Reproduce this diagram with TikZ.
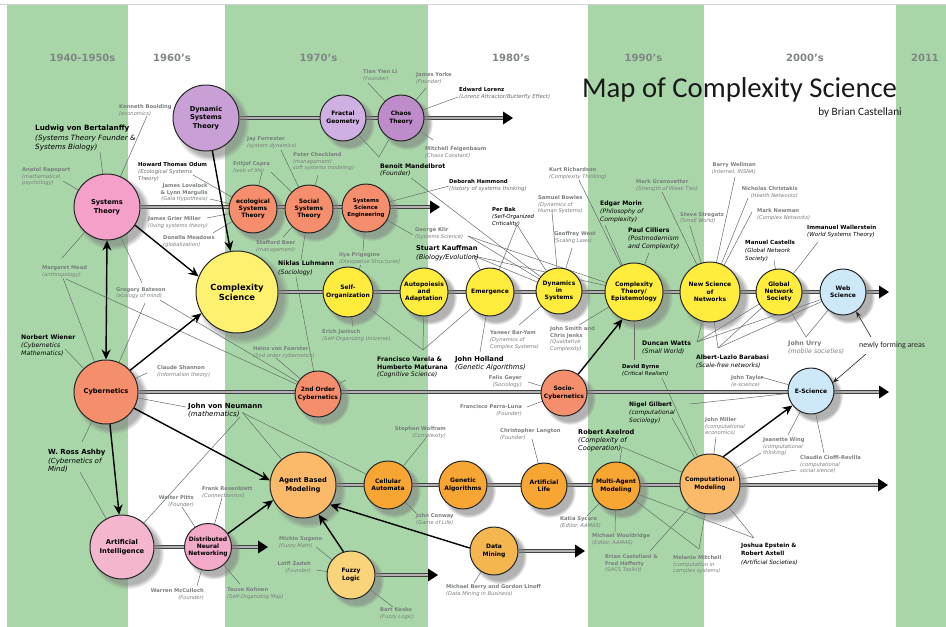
\documentclass[tikz,border=0pt]{standalone}
\usepackage{fontspec}
\setsansfont{DejaVu Sans}
\newfontfamily\titlefont{Carlito}
\usetikzlibrary{shadows,arrows.meta,fadings}
\pgfdeclarelayer{back}
\pgfdeclarelayer{lines}
\pgfsetlayers{back,lines,main}
\definecolor{bandC}{RGB}{168,214,168}
\definecolor{eraG}{RGB}{128,134,132}
\definecolor{minorG}{RGB}{122,126,126}
\definecolor{descG}{RGB}{105,108,108}
\definecolor{lineG}{RGB}{100,108,104}
\definecolor{dstC}{RGB}{200,160,214}
\definecolor{fgC}{RGB}{206,176,226}
\definecolor{chaosC}{RGB}{190,140,202}
\definecolor{stC}{RGB}{245,160,200}
\definecolor{aiC}{RGB}{243,182,206}
\definecolor{dnnC}{RGB}{243,170,200}
\definecolor{salC}{RGB}{245,142,108}
\definecolor{yelC}{RGB}{255,236,60}
\definecolor{csC}{RGB}{255,241,112}
\definecolor{bluC}{RGB}{205,232,248}
\definecolor{abmC}{RGB}{250,186,106}
\definecolor{orC}{RGB}{247,166,52}
\definecolor{dmC}{RGB}{244,182,78}
\definecolor{flC}{RGB}{250,212,122}
\newcommand{\nm}[1]{\textbf{#1}}
\newcommand{\dsc}[1]{\textit{#1}}
\newcommand{\gdsc}[1]{\textcolor{descG}{\textit{#1}}}
\newcommand{\tlhead}[1]{\fill[black] (#1) -- ([xshift=-10pt,yshift=6.5pt]#1) -- ([xshift=-10pt,yshift=-6.5pt]#1) -- cycle;}
\begin{document}
\begin{tikzpicture}[x=1pt,y=-1pt,
  circ/.style={circle, draw=black!85, line width=1pt, inner sep=0pt, align=center, text=black,
    font=\sffamily\bfseries\fontsize{6}{7.3}\selectfont,
    circular drop shadow={shadow xshift=5pt, shadow yshift=-5pt, shadow scale=1.14, opacity=0.6}},
  bigc/.style={font=\sffamily\bfseries\fontsize{6.7}{8.5}\selectfont},
  tl/.style={draw=black!75, line width=0.75pt, double=black!30, double distance=1.9pt},
  arr/.style={draw=black, line width=1.4pt, -{Stealth[length=10pt,width=9pt]}},
  arrb/.style={draw=black, line width=1.4pt, {Stealth[length=10pt,width=9pt]}-{Stealth[length=10pt,width=9pt]}},
  thinarr/.style={draw=black!85, line width=0.6pt, -{Stealth[length=6pt,width=4.5pt]}},
  pl/.style={draw=lineG, line width=0.5pt},
  mn/.style={anchor=north west, inner sep=0pt, align=left, text=minorG, font=\sffamily\fontsize{5.2}{6.9}\selectfont},
  mnr/.style={mn, anchor=north east, align=right},
  md/.style={anchor=north west, inner sep=0pt, align=left, text=black, font=\sffamily\fontsize{5.4}{7}\selectfont},
  mj/.style={anchor=north west, inner sep=0pt, align=left, text=black, font=\sffamily\fontsize{6.3}{8.2}\selectfont},
  era/.style={anchor=base, inner sep=0pt, text=eraG, font=\sffamily\bfseries\fontsize{10}{12}\selectfont}
]
\useasboundingbox (0,0) rectangle (946,627);
\begin{pgfonlayer}{back}
\fill[white] (0,0) rectangle (946,627);
\fill[bandC] (7,5) rectangle (128,627);
\fill[bandC] (225,5) rectangle (428,627);
\fill[bandC] (588,5) rectangle (704,627);
\fill[bandC] (896,5) rectangle (946,627);
\draw[black!18, line width=0.6pt] (0,4.5) -- (946,4.5);
\end{pgfonlayer}

% era labels and title
\node[era] (e40) at (82.5,61) {1940-1950s};
\node[era] (e60) at (172,61) {1960's};
\node[era] (e70) at (318.5,61) {1970's};
\node[era] (e80) at (511,61) {1980's};
\node[era] (e90) at (643.5,61) {1990's};
\node[era] (e00) at (805,61) {2000's};
\node[era] (e11) at (925,61) {2011};
\node[anchor=base west, inner sep=0pt, text=black!90, font=\titlefont\fontsize{28.7}{30}\selectfont] (title) at (582,97) {Map of Complexity Science};
\node[anchor=base east, inner sep=0pt, text=black!90, font=\titlefont\fontsize{11.2}{13}\selectfont] (author) at (902,115) {by Brian Castellani};

% circles
\node[circ, bigc, fill=dstC, minimum size=66pt] (dst) at (206,118) {Dynamic\\Systems\\Theory};
\node[circ, fill=fgC, minimum size=46pt] (fg) at (343,118) {Fractal\\Geometry};
\node[circ, fill=chaosC, minimum size=46pt] (chaos) at (401,118) {Chaos\\Theory};
\node[circ, bigc, fill=stC, minimum size=66pt] (st) at (107,207) {Systems\\Theory};
\node[circ, fill=salC, minimum size=48pt] (eco) at (253,209) {ecological\\Systems\\Theory};
\node[circ, fill=salC, minimum size=48pt] (sst) at (309,209) {Social\\Systems\\Theory};
\node[circ, fill=salC, minimum size=48pt, font=\sffamily\bfseries\fontsize{5.5}{7}\selectfont] (sse) at (366,208) {Systems\\Science\\Engineering};
\node[circ, fill=csC, minimum size=82pt, font=\sffamily\bfseries\fontsize{8.4}{10}\selectfont] (cs) at (237,292) {Complexity\\Science};
\node[circ, fill=yelC, minimum size=50pt] (so) at (348,292) {Self-\\Organization};
\node[circ, fill=yelC, minimum size=48pt] (ap) at (424,292) {Autopoiesis\\and\\Adaptation};
\node[circ, fill=yelC, minimum size=48pt] (em) at (490,292) {Emergence};
\node[circ, fill=yelC, minimum size=46pt] (dis) at (559,291) {Dynamics\\in\\Systems};
\node[circ, fill=yelC, minimum size=58pt] (cte) at (634,292) {Complexity\\Theory/\\Epistemology};
\node[circ, fill=yelC, minimum size=60pt] (nsn) at (710,292) {New Science\\of\\Networks};
\node[circ, fill=yelC, minimum size=46pt] (gns) at (779,292) {Global\\Network\\Society};
\node[circ, fill=bluC, minimum size=46pt] (ws) at (843,292) {Web\\Science};
\node[circ, bigc, fill=salC, minimum size=64pt] (cyb) at (106,392) {Cybernetics};
\node[circ, fill=salC, minimum size=46pt] (soc2) at (318,394) {2nd Order\\Cybernetics};
\node[circ, fill=salC, minimum size=46pt] (socyb) at (564,393) {Socio-\\Cybernetics};
\node[circ, fill=bluC, minimum size=46pt] (es) at (811,391) {E-Science};
\node[circ, bigc, fill=aiC, minimum size=64pt] (ai) at (122,547) {Artificial\\Intelligence};
\node[circ, fill=dnnC, minimum size=47pt] (dnn) at (208,547) {Distributed\\Neural\\Networking};
\node[circ, bigc, fill=abmC, minimum size=66pt] (abm) at (303,485) {Agent Based\\Modeling};
\node[circ, fill=orC, minimum size=48pt] (ca) at (388,485) {Cellular\\Automata};
\node[circ, fill=orC, minimum size=48pt] (ga) at (463,485) {Genetic\\Algorithms};
\node[circ, fill=orC, minimum size=46pt] (al) at (544,486) {Artificial\\Life};
\node[circ, fill=orC, minimum size=48pt] (mam) at (616,486) {Multi-Agent\\Modeling};
\node[circ, fill=abmC, minimum size=60pt] (cm) at (710,484) {Computational\\Modeling};
\node[circ, fill=dmC, minimum size=48pt] (dm) at (494,551) {Data\\Mining};
\node[circ, fill=flC, minimum size=48pt] (fl) at (351,575) {Fuzzy\\Logic};

% timeline ends
\coordinate (e1) at (513,118);
\coordinate (e2) at (440,207);
\coordinate (e3) at (889,292);
\coordinate (e4) at (889,392);
\coordinate (e5) at (888,485);
\coordinate (e6) at (268,547);
\coordinate (e7) at (438,575);
\coordinate (e8) at (585,551);

% connector start points
\coordinate (kb1) at (147,116);
\coordinate (ar1) at (63,181);
\coordinate (lvb1) at (100,152);
\coordinate (od1) at (193,175);
\coordinate (lov1) at (210,199);
\coordinate (jgm1) at (207,218);
\coordinate (dmw1) at (213,233);
\coordinate (mm1) at (62,258);
\coordinate (mm2) at (63,278);
\coordinate (mm3) at (66,279);
\coordinate (gb1) at (142,283);
\coordinate (gb2) at (145,303);
\coordinate (gb3) at (160,300);
\coordinate (nw1) at (65,349);
\coordinate (cls1) at (147,373);
\coordinate (jvn1) at (186,407);
\coordinate (jvn2) at (240,417);
\coordinate (jvn3) at (242,412);
\coordinate (jvn4) at (243,413);
\coordinate (wra1) at (82,442);
\coordinate (wra2) at (80,472);
\coordinate (wp1) at (182,507);
\coordinate (fr1) at (222,498);
\coordinate (wmc1) at (197,586);
\coordinate (tk1) at (240,584);
\coordinate (ms1) at (316,547);
\coordinate (lz1) at (316,570);
\coordinate (bk1) at (393,607);
\coordinate (sw1) at (426,438);
\coordinate (jc1) at (416,513);
\coordinate (mb1) at (474,583);
\coordinate (cl1) at (532,439);
\coordinate (ra1) at (622,447);
\coordinate (ks1) at (587,516);
\coordinate (mw1) at (615,532);
\coordinate (bc1) at (650,551);
\coordinate (mmi1) at (699,549);
\coordinate (je1) at (754,538);
\coordinate (jm1) at (716,437);
\coordinate (jw1) at (761,453);
\coordinate (jw2) at (788,435);
\coordinate (ccr1) at (796,470);
\coordinate (ccr2) at (824,453);
\coordinate (ng1) at (672,418);
\coordinate (ng2) at (690,404);
\coordinate (db1) at (634,360);
\coordinate (db2) at (662,378);
\coordinate (dw1) at (697,342);
\coordinate (alb1) at (718,348);
\coordinate (ju1) at (806,337);
\coordinate (jt1) at (761,377);
\coordinate (mc1) at (774,260);
\coordinate (iw1) at (818,242);
\coordinate (mn1) at (752,212);
\coordinate (nc1) at (748,198);
\coordinate (bw1) at (735,177);
\coordinate (ss1) at (690,226);
\coordinate (mg1) at (662,192);
\coordinate (kr1) at (579,180);
\coordinate (emo1) at (605,225);
\coordinate (pc1) at (649,253);
\coordinate (sb1) at (552,212);
\coordinate (gw1) at (572,248);
\coordinate (pb1) at (517,225);
\coordinate (sk1) at (474,256);
\coordinate (gk1) at (468,236);
\coordinate (gk2) at (413,235);
\coordinate (dh1) at (449,186);
\coordinate (bm1) at (379,157);
\coordinate (bm2) at (411,178);
\coordinate (tyl1) at (368,83);
\coordinate (jy1) at (426,88);
\coordinate (el1) at (458,97);
\coordinate (mf1) at (433,140);
\coordinate (jf1) at (281,150);
\coordinate (pck1) at (318,175);
\coordinate (fc1) at (271,172);
\coordinate (fc2) at (262,172);
\coordinate (sbe1) at (283,237);
\coordinate (nl1) at (301,260);
\coordinate (nl2) at (296,277);
\coordinate (ip1) at (363,251);
\coordinate (ip2) at (361,265);
\coordinate (ej1) at (353,327);
\coordinate (hvf1) at (276,358);
\coordinate (fv1) at (423,350);
\coordinate (fv2) at (346,380);
\coordinate (jh1) at (480,352);
\coordinate (yby1) at (519,325);
\coordinate (jsc1) at (579,325);
\coordinate (fg1) at (528,382);
\coordinate (fpl1) at (527,407);
\coordinate (nfa1) at (871,337);
\coordinate (nfa2) at (866,354);

\begin{pgfonlayer}{lines}
\foreach \a/\b in {kb1/st, ar1/st, lvb1/st, od1/eco, lov1/eco, jgm1/eco, dmw1/eco,
  mm1/st, mm2/cyb, mm3/soc2, gb1/st, gb2/cyb, gb3/soc2, nw1/cyb, cls1/cyb,
  jvn1/cyb, jvn2/ai, jvn3/abm, jvn4/ca, wra1/cyb, wra2/ai, wp1/dnn, fr1/dnn, wmc1/dnn, tk1/dnn,
  ms1/fl, lz1/fl, bk1/fl, sw1/ca, jc1/ca, mb1/dm, cl1/al, ra1/mam, ra1/cm, ks1/mam, mw1/mam,
  bc1/cm, mmi1/mam, mmi1/cm, je1/cm, je1/mam, jm1/cm, jw1/cm, jw2/es, ccr1/cm, ccr2/es,
  ng1/cm, ng2/es, db1/cte, db2/cm, dw1/nsn, dw1/gns, dw1/ws, alb1/nsn, alb1/gns, alb1/ws,
  ju1/gns, ju1/ws, jt1/es, mc1/gns, iw1/gns, mn1/nsn, nc1/nsn, bw1/nsn, ss1/nsn, mg1/nsn,
  kr1/cte, emo1/cte, pc1/cte, sb1/dis, gw1/dis, pb1/em, pb1/dis, sk1/em, sk1/dis, sk1/cte,
  gk1/dis, gk1/cte, gk2/sse, dh1/sse, bm1/fg, bm1/chaos, bm2/dis, tyl1/chaos, jy1/chaos,
  el1/chaos, mf1/chaos, jf1/sst, pck1/sst, fc1/sst, fc2/eco, sbe1/sst, nl1/sst, nl2/soc2,
  ip1/sse, ip2/so, ej1/so, hvf1/soc2, fv1/so, fv1/ap, fv1/em, fv2/soc2, jh1/em, yby1/dis,
  jsc1/cte, fg1/socyb, fpl1/socyb}
  \draw[pl] (\a) -- (\b);
% timelines
\draw[tl] (dst) -- ([xshift=-8pt]e1); \tlhead{e1}
\draw[tl] (st) -- ([xshift=-8pt]e2); \tlhead{e2}
\draw[tl] (cs) -- ([xshift=-8pt]e3); \tlhead{e3}
\draw[tl] (cyb) -- ([xshift=-8pt]e4); \tlhead{e4}
\draw[tl] (abm) -- ([xshift=-8pt]e5); \tlhead{e5}
\draw[tl] (ai) -- ([xshift=-8pt]e6); \tlhead{e6}
\draw[tl] (fl) -- ([xshift=-8pt]e7); \tlhead{e7}
\draw[tl] (dm) -- ([xshift=-8pt]e8); \tlhead{e8}
\end{pgfonlayer}

% people: minor
\node[mn] (kb) at (119,104) {\nm{Kenneth Boulding}\\\dsc{(economics)}};
\node[mn] (ar) at (22,167) {\nm{Anatol Rapoport}\\\dsc{(mathematical}\\\dsc{psychology)}};
\node[mn] (jgm) at (148,216) {\nm{James Grier Miller}\\\dsc{(living systems theory)}};
\node[mn] (dmw) at (163,235) {\nm{Donella Meadows}\\\dsc{(globalization)}};
\node[mn] (mm) at (42,265) {\nm{Margaret Mead}\\\dsc{(anthropology)}};
\node[mn] (gb) at (116,287) {\nm{Gregory Bateson}\\\dsc{(ecology of mind)}};
\node[mn] (cls) at (157,365) {\nm{Claude Shannon}\\\dsc{(Information theory)}};
\node[mn] (fr) at (202,486) {\nm{Frank Rosenblatt}\\\dsc{(Connectionism)}};
\node[mn] (tk) at (227,587) {\nm{Teuvo Kohnen}\\\dsc{(Self-Organizing Map)}};
\node[mn] (ms) at (279,536) {\nm{Michio Sugeno}\\\dsc{(Fuzzy Math)}};
\node[mn] (bk) at (380,607) {\nm{Bart Kosko}\\\dsc{(Fuzzy Logic)}};
\node[mn] (jc) at (416,513) {\nm{John Conway}\\\dsc{(Game of Life)}};
\node[mn] (mb) at (446,584) {\nm{Michael Berry and Gordon Linoff}\\\dsc{(Data Mining in Business)}};
\node[mn] (cl) at (500,428) {\nm{Christopher Langton}\\\dsc{(Founder)}};
\node[mn] (ks) at (560,516) {\nm{Katia Sycara}\\\dsc{(Editor, AAMAS)}};
\node[mn] (mw) at (592,533) {\nm{Michael Wooldridge}\\\dsc{(Editor, AAMAS)}};
\node[mn] (bc) at (605,554) {\nm{Brian Castellani \&}\\\nm{Fred Hafferty}\\\dsc{(SACS Toolkit)}};
\node[mn] (mmi) at (673,555) {\nm{Melanie Mitchell}\\\dsc{(computation in}\\\dsc{complex systems)}};
\node[mn] (jm) at (705,417) {\nm{John Miller}\\\dsc{(computational}\\\dsc{economics)}};
\node[mn] (jw) at (763,437) {\nm{Jeanette Wing}\\\dsc{(computational}\\\dsc{thinking)}};
\node[mn] (ccr) at (800,455) {\nm{Claudio Cioffi-Revilla}\\\dsc{(computational}\\\dsc{social sience)}};
\node[mn] (jt) at (731,375) {\nm{John Taylor}\\\dsc{(e-science)}};
\node[mn] (mnw) at (757,208) {\nm{Mark Newman}\\\dsc{(Complex Networks)}};
\node[mn] (ss) at (680,212) {\nm{Steve Strogatz}\\\dsc{(Small World)}};
\node[mn] (mg) at (636,179) {\nm{Mark Granovetter}\\\dsc{(Strength of Weak Ties)}};
\node[mn] (kr) at (549,167) {\nm{Kurt Richardson}\\\dsc{(Complexity Thinking)}};
\node[mn] (sb) at (538,195) {\nm{Samuel Bowles}\\\dsc{(Dynamics of}\\\dsc{Human Systems)}};
\node[mn] (gw) at (554,231) {\nm{Geoffrey West}\\\dsc{(Scaling Laws)}};
\node[mn] (gk) at (415,227) {\nm{George Klir}\\\dsc{(Systems Science)}};
\node[mn] (tyl) at (363,69) {\nm{Tien Yien Li}\\\dsc{(Founder)}};
\node[mn] (jy) at (416,72) {\nm{James Yorke}\\\dsc{(Founder)}};
\node[mn] (mf) at (425,146) {\nm{Mitchell Feigenbaum}\\\dsc{(Chaos Constant)}};
\node[mn] (jf) at (247,137) {\nm{Jay Forrester}\\\dsc{(system dynamics)}};
\node[mn] (pck) at (293,152) {\nm{Peter Checkland}\\\dsc{(management/}\\\dsc{soft systems modeling)}};
\node[mn] (fc) at (233,161) {\nm{Fritjof Capra}\\\dsc{(web of life)}};
\node[mn] (sbe) at (256,240) {\nm{Stafford Beer}\\\dsc{(management)}};
\node[mn] (ip) at (339,252) {\nm{Ilya Prigogine}\\\dsc{(Dissipative Structures)}};
\node[mn] (ej) at (322,329) {\nm{Erich Jantsch}\\\dsc{(Self-Organizing Universe)}};
\node[mn] (hvf) at (253,346) {\nm{Heinz von Foerster}\\\dsc{(2nd order cybernetics)}};
\node[mn] (yby) at (490,331) {\nm{Yaneer Bar-Yam}\\\dsc{(Dynamics of}\\\dsc{Complex Systems)}};
\node[mn] (jsc) at (550,326) {\nm{John Smith and}\\\nm{Chris Jenks}\\\dsc{(Qualitative}\\\dsc{Complexity)}};
\node[mn, font=\sffamily\fontsize{6.3}{7.6}\selectfont] (ju) at (788,340.5) {\nm{John Urry}\\\dsc{(mobile societies)}};
\node[mnr] (lov) at (208,183) {\nm{James Lovelock}\\\nm{\& Lynn Margulis}\\\dsc{(Gaia Hypothesis)}};
\node[mnr] (wp) at (194,495) {\nm{Walter Pitts}\\\dsc{(Founder)}};
\node[mnr] (wmc) at (204,588) {\nm{Warren McCulloch}\\\dsc{(Founder)}};
\node[mnr] (lz) at (311,561) {\nm{Lotfi Zadeh}\\\dsc{(Founder)}};
\node[mnr] (sw) at (446,426) {\nm{Stephen Wolfram}\\\dsc{(Complexity)}};
\node[mnr] (fgy) at (522,375) {\nm{Felix Geyer}\\\dsc{(Sociology)}};
\node[mnr] (fpl) at (522,404) {\nm{Francisco Parra-Luna}\\\dsc{(Founder)}};
\node[mnr] (nc) at (798,186) {\nm{Nicholas Christakis}\\\dsc{(Health Networks)}};
\node[mnr] (bw) at (756,162) {\nm{Barry Wellman}\\\dsc{(Internet, INSNA)}};

% people: mid
\node[md] (odum) at (138,162) {\nm{Howard Thomas Odum}\\\gdsc{(Ecological Systems}\\\gdsc{Theory)}};
\node[md] (dh) at (449,179) {\nm{Deborah Hammond}\\\gdsc{(history of systems thinking)}};
\node[md] (el) at (459,87) {\nm{Edward Lorenz}\\\gdsc{(Lorenz Attractor/Butterfly Effect)}};
\node[md] (pb) at (492,207) {\nm{Per Bak}\\\dsc{(Self-Organized}\\\dsc{Criticality)}};
\node[md] (db) at (622,364) {\nm{David Byrne}\\\dsc{(Critical Realism)}};
\node[md, font=\sffamily\fontsize{5.6}{7.2}\selectfont] (iw) at (807,225) {\nm{Immanuel Wallerstein}\\\dsc{(World Systems Theory)}};
\node[md, font=\sffamily\fontsize{5.6}{7.8}\selectfont] (mc) at (745,240) {\nm{Manuel Castells}\\\dsc{(Global Network}\\\dsc{Society)}};

% people: major
\node[mj, font=\sffamily\fontsize{7.2}{9.5}\selectfont] (lvb) at (35,125) {\nm{Ludwig von Bertalanffy}\\\dsc{(Systems Theory Founder \&}\\\dsc{Systems Biology)}};
\node[mj, font=\sffamily\fontsize{6.2}{8}\selectfont] (nw) at (21,334.5) {\nm{Norbert Wiener}\\\dsc{(Cybernetics}\\\dsc{Mathematics)}};
\node[mj, font=\sffamily\fontsize{7}{8}\selectfont] (jvn) at (188,403) {\nm{John von Neumann}\\\dsc{(mathematics)}};
\node[mj, font=\sffamily\fontsize{7}{8.5}\selectfont] (wra) at (48,449) {\nm{W. Ross Ashby}\\\dsc{(Cybernetics of}\\\dsc{Mind)}};
\node[mj, font=\sffamily\fontsize{6.2}{7.4}\selectfont] (bm) at (380,163.5) {\nm{Benoit Mandelbrot}\\\dsc{(Founder)}};
\node[mj, font=\sffamily\fontsize{6.2}{9}\selectfont] (nl) at (278,260.5) {\nm{Niklas Luhmann}\\\dsc{(Sociology)}};
\node[mj, font=\sffamily\fontsize{6.6}{9}\selectfont] (sk) at (416,245.5) {\nm{Stuart Kauffman}\\\dsc{(Biology/Evolution)}};
\node[mj, font=\sffamily\fontsize{6.2}{7.6}\selectfont] (fv) at (377,356.5) {\nm{Francisco Varela \&}\\\nm{Humberto Maturana}\\\dsc{(Cognitive Science)}};
\node[mj, font=\sffamily\fontsize{6.8}{8.4}\selectfont] (jh) at (455,356) {\nm{John Holland}\\\dsc{(Genetic Algorithms)}};
\node[mj, font=\sffamily\fontsize{6.1}{8}\selectfont] (emo) at (600,200.5) {\nm{Edgar Morin}\\\dsc{(Philosophy of}\\\dsc{Complexity)}};
\node[mj, font=\sffamily\fontsize{6.2}{8}\selectfont] (pc) at (628,227.5) {\nm{Paul Cilliers}\\\dsc{(Postmodernism}\\\dsc{and Complexity)}};
\node[mj, font=\sffamily\fontsize{6.2}{8}\selectfont] (dw) at (642,340.5) {\nm{Duncan Watts}\\\dsc{(Small World)}};
\node[mj, font=\sffamily\fontsize{6}{8}\selectfont] (alb) at (696,354.5) {\nm{Albert-Lazlo Barabasi}\\\dsc{(Scale-free networks)}};
\node[mj, font=\sffamily\fontsize{6}{8}\selectfont] (ng) at (629,401.5) {\nm{Nigel Gilbert}\\\dsc{(computational}\\\dsc{Sociology)}};
\node[mj, font=\sffamily\fontsize{6.6}{8}\selectfont] (ra) at (578,429.5) {\nm{Robert Axelrod}\\\dsc{(Complexity of}\\\dsc{Cooperation)}};
\node[mj, font=\sffamily\fontsize{5.8}{8.5}\selectfont] (je) at (741,542.5) {\nm{Joshua Epstein \&}\\\nm{Robert Axtell}\\\dsc{(Artificial Societies)}};

\node[anchor=base west, inner sep=0pt, text=black!85, font=\titlefont\fontsize{8}{9}\selectfont] (nfa) at (859,347) {newly forming areas};

% arrows
\draw[arr] (dst.-79) -- (cs.99);
\draw[arr] (st.-33) -- (cs.158);
\draw[arr] (cyb.42) -- (cs.-149);
\draw[arrb] (st.south) -- (cyb.north);
\draw[arr] (cyb.-83) -- (ai.95);
\draw[arr] (cyb.-30) -- (abm.172);
\draw[arr] (dnn.34) -- (abm.-153);
\draw[arr] (fl.108) -- (abm.-62);
\draw[arr] (dm.173) -- (abm.-36);
\draw[arr] (socyb.53) -- (cte.-113);
\draw[arr] (cm.64) -- (es.-142);
\draw[thinarr] (nfa1) -- (ws.-56);
\draw[thinarr] (nfa2) -- (es.21);
\end{tikzpicture}
\end{document}
